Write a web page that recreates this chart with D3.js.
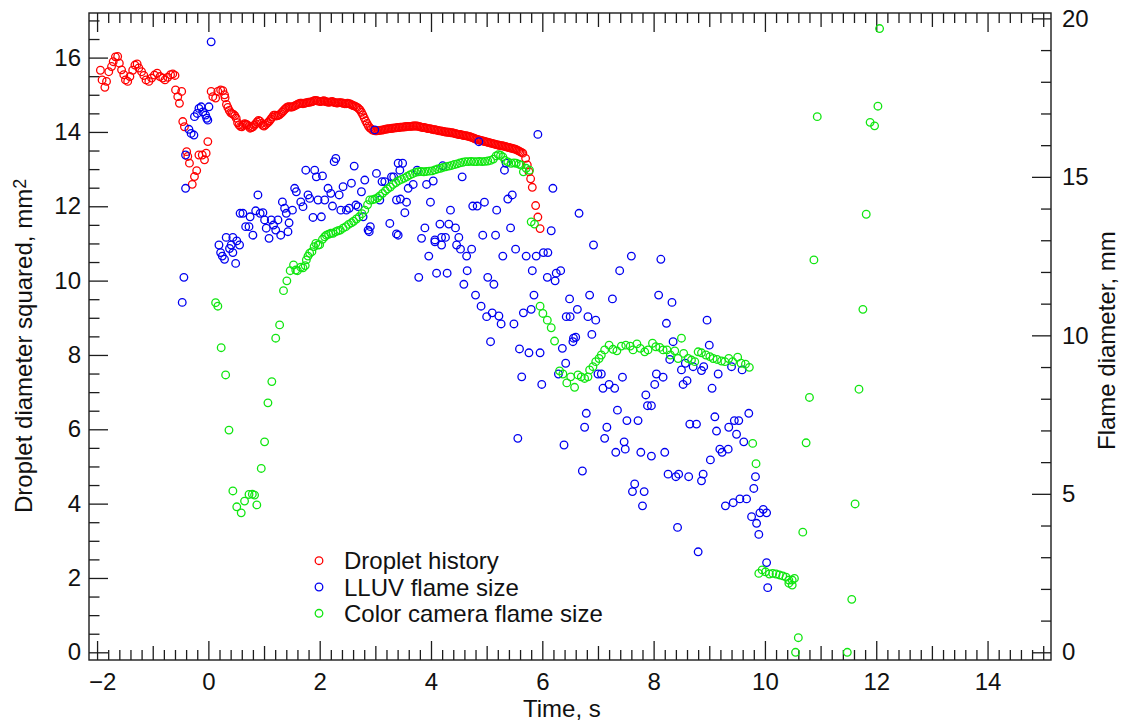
<!DOCTYPE html>
<html>
<head>
<meta charset="utf-8">
<script src="https://cdn.jsdelivr.net/npm/d3@7"></script>
<style>
  body { margin: 0; background: #fff; }
  svg { display: block; font-family: "Liberation Sans", Arial, sans-serif; }
</style>
</head>
<body>
<svg id="chart" width="1122" height="723"></svg>
<script>
// Droplet history: [time (s), droplet diameter squared (mm^2)] — left axis
const dropletHistory = [
  [-1.94,15.66],[-1.91,15.40],[-1.86,15.20],[-1.83,15.36],[-1.79,15.62],[-1.74,15.76],[-1.71,15.89],[-1.67,16.02],
  [-1.63,16.03],[-1.60,15.85],[-1.56,15.67],[-1.52,15.54],[-1.49,15.40],[-1.45,15.36],[-1.41,15.49],[-1.36,15.66],
  [-1.32,15.80],[-1.28,15.83],[-1.25,15.72],[-1.20,15.62],[-1.16,15.52],[-1.12,15.40],[-1.07,15.36],[-1.02,15.45],
  [-0.97,15.53],[-0.92,15.58],[-0.87,15.49],[-0.82,15.45],[-0.78,15.40],[-0.73,15.47],[-0.68,15.54],[-0.64,15.56],
  [-0.60,15.52],[-0.59,15.13],[-0.55,14.95],[-0.52,14.77],[-0.48,15.09],[-0.46,14.28],[-0.43,14.14],[-0.39,13.47],
  [-0.37,13.34],[-0.34,13.16],[-0.29,12.59],[-0.25,12.80],[-0.21,12.96],[-0.17,13.38],[-0.11,13.38],[-0.07,13.25],
  [-0.04,13.43],[-0.01,13.74],[0.05,15.09],[0.08,14.95],[0.13,14.91],[0.17,15.09],[0.22,15.13],[0.26,15.11],
  [0.29,15.00],[0.300,14.92],[0.325,14.74],[0.350,14.66],[0.375,14.58],[0.400,14.52],[0.425,14.49],[0.450,14.47],
  [0.475,14.44],[0.500,14.37],[0.525,14.25],[0.550,14.19],[0.575,14.15],[0.600,14.14],[0.625,14.18],[0.650,14.22],
  [0.675,14.21],[0.700,14.19],[0.725,14.15],[0.750,14.10],[0.775,14.12],[0.800,14.14],[0.825,14.18],[0.850,14.22],
  [0.875,14.27],[0.900,14.31],[0.925,14.29],[0.950,14.23],[0.975,14.18],[1.000,14.16],[1.025,14.19],[1.050,14.23],
  [1.075,14.26],[1.100,14.30],[1.125,14.35],[1.150,14.40],[1.175,14.45],[1.200,14.45],[1.225,14.43],[1.250,14.44],
  [1.275,14.46],[1.300,14.49],[1.325,14.53],[1.350,14.57],[1.375,14.61],[1.400,14.65],[1.425,14.67],[1.450,14.68],
  [1.475,14.67],[1.500,14.67],[1.525,14.68],[1.550,14.70],[1.575,14.72],[1.600,14.74],[1.625,14.76],[1.650,14.77],
  [1.675,14.77],[1.700,14.76],[1.725,14.77],[1.750,14.78],[1.775,14.79],[1.800,14.80],[1.825,14.80],[1.850,14.81],
  [1.875,14.82],[1.900,14.84],[1.925,14.85],[1.950,14.84],[1.975,14.83],[2.000,14.82],[2.025,14.82],[2.050,14.83],
  [2.075,14.84],[2.100,14.82],[2.125,14.81],[2.150,14.80],[2.175,14.80],[2.200,14.81],[2.225,14.82],[2.250,14.80],
  [2.275,14.79],[2.300,14.78],[2.325,14.78],[2.350,14.79],[2.375,14.79],[2.400,14.78],[2.425,14.77],[2.450,14.76],
  [2.475,14.76],[2.500,14.77],[2.525,14.76],[2.550,14.75],[2.575,14.73],[2.600,14.71],[2.625,14.70],[2.650,14.68],
  [2.675,14.66],[2.700,14.63],[2.725,14.59],[2.750,14.53],[2.775,14.46],[2.800,14.38],[2.825,14.30],[2.850,14.23],
  [2.875,14.16],[2.900,14.11],[2.925,14.08],[2.950,14.05],[2.975,14.04],[3.000,14.03],[3.025,14.03],[3.050,14.04],
  [3.075,14.04],[3.100,14.05],[3.125,14.05],[3.150,14.06],[3.175,14.07],[3.200,14.08],[3.225,14.08],[3.250,14.09],
  [3.275,14.09],[3.300,14.10],[3.325,14.10],[3.350,14.11],[3.375,14.11],[3.400,14.12],[3.425,14.12],[3.450,14.13],
  [3.475,14.13],[3.500,14.13],[3.525,14.14],[3.550,14.14],[3.575,14.15],[3.600,14.15],[3.625,14.15],[3.650,14.15],
  [3.675,14.16],[3.700,14.16],[3.725,14.16],[3.750,14.16],[3.775,14.15],[3.800,14.14],[3.825,14.13],[3.850,14.12],
  [3.875,14.12],[3.900,14.11],[3.925,14.10],[3.950,14.09],[3.975,14.09],[4.000,14.08],[4.025,14.07],[4.050,14.06],
  [4.075,14.06],[4.100,14.05],[4.125,14.04],[4.150,14.03],[4.175,14.03],[4.200,14.02],[4.225,14.01],[4.250,14.00],
  [4.275,14.00],[4.300,13.99],[4.325,13.99],[4.350,13.98],[4.375,13.98],[4.400,13.97],[4.425,13.96],[4.450,13.95],
  [4.475,13.94],[4.500,13.93],[4.525,13.93],[4.550,13.92],[4.575,13.91],[4.600,13.90],[4.625,13.90],[4.650,13.89],
  [4.675,13.88],[4.700,13.87],[4.725,13.86],[4.750,13.84],[4.775,13.83],[4.800,13.81],[4.825,13.80],[4.850,13.79],
  [4.875,13.78],[4.900,13.77],[4.925,13.76],[4.950,13.75],[4.975,13.74],[5.000,13.73],[5.025,13.72],[5.050,13.71],
  [5.075,13.70],[5.100,13.69],[5.125,13.68],[5.150,13.67],[5.175,13.66],[5.200,13.65],[5.225,13.64],[5.250,13.63],
  [5.275,13.63],[5.300,13.62],[5.325,13.61],[5.350,13.60],[5.375,13.59],[5.400,13.58],[5.425,13.57],[5.450,13.56],
  [5.475,13.55],[5.500,13.54],[5.525,13.53],[5.550,13.51],[5.575,13.49],[5.600,13.47],[5.625,13.45],[5.650,13.43],
  [5.70,13.29],[5.73,13.11],[5.76,12.93],[5.79,12.74],[5.82,12.51],[5.88,12.02],[5.92,11.71],[5.96,11.40]
];

// LLUV flame size: [time (s), flame diameter (mm)] — right axis
const lluvFlame = [
  [-0.47,11.04],[-0.44,11.83],[-0.41,15.69],[-0.41,14.64],[-0.35,16.50],[-0.31,16.37],[-0.26,16.32],[-0.25,16.90],
  [-0.20,17.00],[-0.17,17.16],[-0.13,17.21],[-0.10,17.05],[-0.05,16.95],[-0.03,16.85],[-0.01,16.79],[0.01,17.21],
  [0.05,19.26],[0.19,12.85],[0.22,12.61],[0.25,12.50],[0.29,12.40],[0.32,13.09],[0.38,12.74],[0.41,12.85],
  [0.44,13.09],[0.44,12.61],[0.49,12.27],[0.51,12.98],[0.56,12.85],[0.57,13.85],[0.62,13.85],[0.67,13.43],
  [0.73,13.43],[0.75,13.74],[0.80,13.16],[0.85,13.93],[0.89,14.43],[0.93,13.85],[0.98,13.87],[1.01,13.64],
  [1.04,13.38],[1.09,13.06],[1.13,13.64],[1.17,13.48],[1.21,13.32],[1.25,13.64],[1.30,13.16],[1.33,14.21],
  [1.37,14.01],[1.40,13.85],[1.43,13.27],[1.45,13.55],[1.51,13.95],[1.55,14.64],[1.58,14.53],[1.66,14.21],
  [1.70,14.06],[1.75,15.21],[1.79,14.43],[1.82,14.32],[1.88,13.72],[1.91,15.21],[1.94,15.00],[1.97,14.27],
  [2.03,13.74],[2.05,15.03],[2.09,14.27],[2.15,14.64],[2.20,14.48],[2.23,14.08],[2.26,15.48],[2.29,15.58],
  [2.35,14.43],[2.38,13.95],[2.42,14.69],[2.48,13.95],[2.53,14.01],[2.57,14.80],[2.62,15.34],[2.65,14.11],
  [2.69,14.06],[2.75,14.53],[2.78,13.74],[2.81,14.90],[2.87,13.32],[2.89,13.27],[2.91,13.43],[2.99,16.48],
  [3.02,15.11],[3.08,14.27],[3.12,14.85],[3.17,14.85],[3.26,13.53],[3.29,15.00],[3.33,15.00],[3.38,14.27],
  [3.38,13.20],[3.41,15.43],[3.41,13.16],[3.44,15.21],[3.45,14.30],[3.49,15.43],[3.53,13.87],[3.56,14.20],
  [3.59,14.64],[3.68,14.76],[3.75,15.21],[3.78,11.83],[3.83,13.06],[3.89,13.39],[3.92,14.76],[3.96,12.50],
  [3.99,14.20],[4.04,14.87],[4.07,13.01],[4.07,12.95],[4.10,11.96],[4.16,13.51],[4.19,13.09],[4.19,12.85],
  [4.21,15.35],[4.26,13.09],[4.29,11.96],[4.32,13.51],[4.35,13.95],[4.44,13.39],[4.46,12.85],[4.50,13.09],
  [4.53,12.72],[4.56,15.00],[4.59,11.61],[4.64,12.50],[4.65,12.04],[4.73,12.72],[4.75,14.08],[4.80,11.27],
  [4.83,14.08],[4.86,16.11],[4.90,10.92],[4.93,13.16],[4.96,14.20],[5.00,10.59],[5.02,11.83],[5.07,9.80],
  [5.10,10.71],[5.13,11.61],[5.16,13.16],[5.18,13.95],[5.22,10.61],[5.26,10.36],[5.29,12.50],[5.32,15.21],
  [5.35,15.43],[5.38,14.30],[5.43,13.39],[5.46,14.43],[5.49,10.36],[5.52,12.72],[5.56,6.75],[5.59,9.57],
  [5.63,8.69],[5.66,10.71],[5.71,12.50],[5.76,9.45],[5.80,10.82],[5.82,12.04],[5.85,11.27],[5.89,12.50],
  [5.92,16.34],[5.96,9.45],[5.99,8.45],[6.02,12.61],[6.09,11.83],[6.10,12.61],[6.16,13.30],[6.19,14.64],
  [6.23,11.72],[6.25,11.96],[6.29,8.78],[6.33,12.04],[6.36,9.59],[6.39,6.54],[6.42,9.12],[6.43,10.59],
  [6.49,11.15],[6.50,10.59],[6.55,9.80],[6.56,9.91],[6.60,9.94],[6.63,10.82],[6.66,13.85],[6.72,5.72],
  [6.76,7.10],[6.79,7.54],[6.82,10.59],[6.85,11.27],[6.89,10.03],[6.92,12.85],[6.96,10.48],[7.00,8.78],
  [7.06,8.78],[7.09,8.33],[7.12,6.75],[7.16,7.10],[7.20,8.45],[7.26,11.15],[7.30,8.33],[7.32,6.31],
  [7.35,7.64],[7.39,12.04],[7.44,8.68],[7.47,6.64],[7.49,6.41],[7.52,7.31],[7.60,12.50],[7.62,5.07],
  [7.66,5.31],[7.72,7.31],[7.77,6.31],[7.80,4.62],[7.83,5.07],[7.86,8.12],[7.89,7.78],[7.96,7.78],
  [7.96,6.19],[8.02,8.45],[8.05,8.78],[8.09,11.27],[8.13,12.40],[8.17,8.68],[8.20,6.31],[8.23,10.38],
  [8.26,5.62],[8.29,9.24],[8.33,11.04],[8.35,9.80],[8.40,5.54],[8.43,3.94],[8.45,5.62],[8.50,8.91],
  [8.53,8.45],[8.57,9.12],[8.60,8.57],[8.63,5.54],[8.65,7.20],[8.71,9.01],[8.77,7.20],[8.80,3.17],
  [8.86,8.89],[8.86,5.41],[8.89,5.62],[8.90,9.01],[8.96,10.48],[9.00,9.69],[9.02,6.07],[9.05,8.33],
  [9.10,7.43],[9.13,6.98],[9.16,8.78],[9.19,6.41],[9.23,6.31],[9.29,4.62],[9.34,6.41],[9.35,7.10],
  [9.40,9.01],[9.43,4.72],[9.45,7.31],[9.49,6.88],[9.53,7.31],[9.55,4.84],[9.59,8.91],[9.62,6.64],
  [9.67,4.84],[9.71,7.54],[9.76,4.28],[9.80,5.17],[9.83,5.54],[9.85,4.07],[9.89,3.72],[9.91,4.40],
  [9.97,4.51],[10.03,4.40],[10.03,2.83],[10.05,2.04]
];

// Color camera flame size: [time (s), flame diameter (mm)] — right axis
const colorCameraFlame = [
  [0.13,11.03],[0.17,10.92],[0.23,9.61],[0.31,8.75],[0.37,7.01],[0.44,5.09],[0.51,4.59],[0.59,4.40],
  [0.65,4.77],[0.73,4.98],[0.79,4.99],[0.83,4.96],[0.87,4.65],[0.95,5.80],[1.01,6.64],[1.07,7.87],
  [1.14,8.54],[1.21,9.91],[1.28,10.33],[1.35,11.41],[1.41,11.72],[1.47,12.04],[1.53,12.22],[1.57,12.06],
  [1.60,12.04],[1.66,12.15],[1.70,12.13],[1.74,12.20],[1.76,12.38],[1.79,12.50],[1.82,12.59],[1.86,12.64],
  [1.90,12.80],[1.93,12.90],[1.97,12.85],[2.00,12.86],[2.05,13.03],[2.09,13.11],[2.12,13.16],[2.16,13.19],
  [2.20,13.22],[2.24,13.22],[2.29,13.27],[2.33,13.30],[2.37,13.32],[2.42,13.38],[2.47,13.43],[2.52,13.50],
  [2.57,13.55],[2.61,13.60],[2.66,13.67],[2.71,13.74],[2.76,13.84],[2.81,13.95],[2.86,14.12],[2.90,14.27],
  [2.95,14.28],[2.99,14.30],[3.04,14.34],[3.08,14.40],[3.13,14.48],[3.18,14.56],[3.22,14.62],[3.27,14.68],
  [3.32,14.76],[3.37,14.82],[3.42,14.88],[3.47,14.92],[3.52,14.96],[3.57,15.01],[3.62,15.06],[3.67,15.10],
  [3.72,15.14],[3.77,15.16],[3.82,15.17],[3.87,15.16],[3.92,15.17],[3.97,15.18],[4.02,15.19],[4.07,15.22],
  [4.12,15.25],[4.17,15.27],[4.22,15.30],[4.27,15.32],[4.32,15.34],[4.37,15.36],[4.42,15.39],[4.47,15.41],
  [4.52,15.44],[4.57,15.46],[4.62,15.48],[4.67,15.48],[4.72,15.49],[4.77,15.48],[4.82,15.48],[4.87,15.49],
  [4.92,15.48],[4.97,15.49],[5.02,15.50],[5.07,15.52],[5.12,15.56],[5.17,15.66],[5.21,15.70],[5.25,15.68],
  [5.29,15.63],[5.33,15.52],[5.38,15.47],[5.44,15.43],[5.49,15.44],[5.53,15.43],[5.58,15.40],[5.62,15.37],
  [5.66,15.16],[5.71,15.27],[5.77,15.21],[5.80,13.58],[5.86,13.51],[5.96,10.92],[6.01,10.69],[6.09,10.48],
  [6.16,10.24],[6.22,9.82],[6.31,8.88],[6.37,8.78],[6.44,8.50],[6.51,8.69],[6.58,8.36],[6.64,8.75],
  [6.70,8.69],[6.76,8.64],[6.82,8.69],[6.85,8.91],[6.91,9.01],[6.96,9.17],[7.02,9.27],[7.06,9.38],
  [7.12,9.54],[7.20,9.69],[7.27,9.56],[7.34,9.51],[7.42,9.66],[7.50,9.69],[7.58,9.66],[7.63,9.54],
  [7.70,9.73],[7.76,9.59],[7.84,9.48],[7.90,9.54],[7.98,9.75],[8.04,9.64],[8.11,9.62],[8.17,9.54],
  [8.24,9.54],[8.30,9.38],[8.38,9.51],[8.44,9.27],[8.50,9.91],[8.54,9.43],[8.62,9.27],[8.68,9.22],
  [8.74,9.17],[8.80,9.48],[8.86,9.45],[8.94,9.38],[9.01,9.33],[9.07,9.27],[9.14,9.24],[9.22,9.19],
  [9.28,9.17],[9.35,9.27],[9.42,9.17],[9.51,9.31],[9.57,9.12],[9.65,9.09],[9.72,8.99],[9.78,6.59],
  [9.84,5.95],[9.89,2.49],[9.95,2.60],[10.01,2.54],[10.08,2.47],[10.14,2.49],[10.20,2.47],[10.26,2.44],
  [10.32,2.41],[10.38,2.37],[10.43,2.28],[10.43,2.18],[10.49,2.28],[10.49,2.12],[10.53,2.33],[10.55,0.00],
  [10.60,0.46],[10.68,3.79],[10.74,6.61],[10.80,8.04],[10.88,12.38],[10.94,16.90],[11.48,0.00],[11.56,1.67],
  [11.62,4.68],[11.69,8.30],[11.76,10.82],[11.82,13.82],[11.89,16.72],[11.97,16.61],[12.03,17.23],[12.06,19.68]
];

const seriesNames = ["Droplet history", "LLUV flame size", "Color camera flame size"];
const seriesColors = ["#ff0000", "#0000f0", "#10e610"];

// Axis tick positions and labels
const xMajorTicks = [-2, 0, 2, 4, 6, 8, 10, 12, 14];
const xMidTicks = [-1, 1, 3, 5, 7, 9, 11, 13, 15];
const xMinorTicks = d3.range(-20, 151, 2).map(v => v / 10).filter(v => v % 1 !== 0);
const yLeftMajorTicks = [0, 2, 4, 6, 8, 10, 12, 14, 16];
const yLeftMinorTicks = d3.range(1, 35, 2).map(v => v / 2).concat([1,3,5,7,9,11,13,15,17]);
const yRightMajorTicks = [0, 5, 10, 15, 20];
const yRightMinorTicks = d3.range(0, 21).filter(v => v % 5 !== 0);

const xTitle = "Time, s";
const yLeftTitle = "Droplet diameter squared, mm";
const yRightTitle = "Flame diameter, mm";

// ---- layout ----
const svg = d3.select("#chart");
const L = 89, R = 1051, T = 13, B = 660;
const INK = "#1c1c1c";
const FONT = 24;

const x = d3.scaleLinear().domain([-2.145, 15.14]).range([L, R]);
const yL = d3.scaleLinear().domain([-0.207, 17.2]).range([B, T]);
const yR = d3.scaleLinear().domain([-0.243, 20.17]).range([B, T]);

function tickAxis(gen, scale, values, len, fmt, pad) {
  return gen(scale).tickValues(values).tickSize(-len).tickSizeOuter(0)
    .tickPadding(pad || 0).tickFormat(fmt || (() => ""));
}

function place(axis, tx, ty) {
  const g = svg.append("g").attr("transform", `translate(${tx},${ty})`).call(axis);
  g.select(".domain").remove();
  g.selectAll(".tick line").attr("stroke", INK).attr("stroke-width", 1.3);
  g.selectAll(".tick text").attr("fill", "#111").attr("font-size", FONT)
    .attr("font-family", "'Liberation Sans', Arial, sans-serif");
  return g;
}

// bottom axis
place(tickAxis(d3.axisBottom, x, xMinorTicks, 10), 0, B);
place(tickAxis(d3.axisBottom, x, xMidTicks, 14), 0, B);
const xLab = place(tickAxis(d3.axisBottom, x, xMajorTicks, 19, d3.format(""), 13), 0, B);
xLab.selectAll(".tick text").attr("dx", d => d < 0 ? 5 : 0);
// top axis (mirror, unlabelled)
place(tickAxis(d3.axisTop, x, xMinorTicks, 10), 0, T);
place(tickAxis(d3.axisTop, x, xMidTicks, 14), 0, T);
place(tickAxis(d3.axisTop, x, xMajorTicks, 19), 0, T);
// left axis
place(tickAxis(d3.axisLeft, yL, yLeftMinorTicks, 10.5), L, 0);
place(tickAxis(d3.axisLeft, yL, yLeftMajorTicks, 19, d3.format("d"), 8), L, 0);
// right axis
place(tickAxis(d3.axisRight, yR, yRightMinorTicks, 10), R, 0);
place(tickAxis(d3.axisRight, yR, yRightMajorTicks, 19, d3.format("d"), 11), R, 0);

// frame
svg.append("rect").attr("x", L).attr("y", T).attr("width", R - L).attr("height", B - T)
  .attr("fill", "none").attr("stroke", INK).attr("stroke-width", 1.4);

// ---- markers ----
const MARK_R = 3.8, MARK_W = 1.3;
const plotG = svg.append("g");
function drawSeries(data, yScale, color) {
  plotG.append("g").selectAll("circle").data(data).join("circle")
    .attr("cx", d => x(d[0])).attr("cy", d => yScale(d[1])).attr("r", MARK_R)
    .attr("fill", "none").attr("stroke", color).attr("stroke-width", MARK_W);
}
drawSeries(dropletHistory, yL, seriesColors[0]);
drawSeries(lluvFlame, yR, seriesColors[1]);
drawSeries(colorCameraFlame, yR, seriesColors[2]);

// ---- legend ----
const legend = svg.append("g").attr("transform", "translate(319,560.7)");
seriesNames.forEach((name, i) => {
  const row = legend.append("g").attr("transform", `translate(0,${i * 26.3})`);
  row.append("circle").attr("r", MARK_R).attr("fill", "none")
    .attr("stroke", seriesColors[i]).attr("stroke-width", MARK_W);
  row.append("text").attr("x", 25).attr("y", 8.5).attr("font-size", FONT)
    .attr("fill", "#111").text(name);
});

// ---- axis titles ----
svg.append("text").attr("x", 523).attr("y", 717).attr("font-size", FONT)
  .attr("fill", "#111").text(xTitle);

const yt = svg.append("text").attr("transform", "translate(31.5,513) rotate(-90)")
  .attr("font-size", FONT).attr("fill", "#111").text(yLeftTitle);
yt.append("tspan").attr("font-size", 18).attr("dy", -6).text("2");

svg.append("text").attr("transform", "translate(1115,450) rotate(-90)")
  .attr("font-size", FONT).attr("fill", "#111").text(yRightTitle);
</script>
</body>
</html>
